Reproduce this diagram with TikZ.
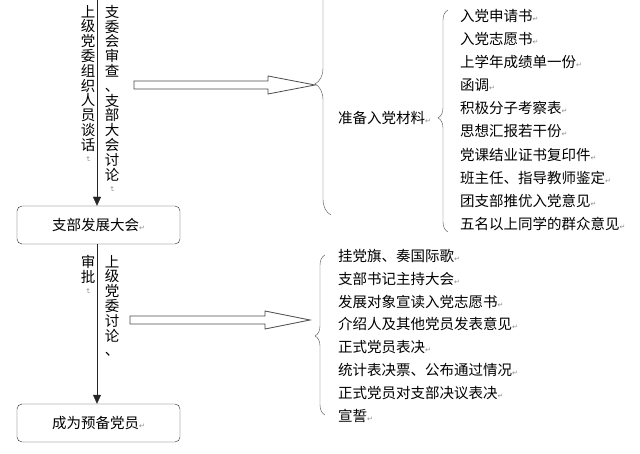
\documentclass[tikz,border=0pt]{standalone}
\usepackage{fontspec}
\newfontfamily\cjk{Noto Sans CJK SC}
\newfontfamily\markfont{DejaVu Sans}
\usetikzlibrary{arrows.meta,decorations.pathreplacing}
\newcommand\retmark{{\markfont\fontsize{7}{7}\selectfont\textcolor{black!45}{↵}}}
\newcommand\vretmark{\rotatebox{-90}{\retmark}}
\tikzset{
  stagebox/.style={draw=black!85, rounded corners=5pt, minimum width=163pt,
    minimum height=38pt, inner sep=0pt, font=\cjk\fontsize{14.5}{15}\selectfont},
  item/.style={anchor=west, inner sep=0pt, font=\cjk\fontsize{14.5}{15}\selectfont},
  vtext/.style={anchor=north, align=center, inner sep=0pt,
    font=\cjk\fontsize{14.5}{14.8}\selectfont},
  flow/.style={draw=black!85, -{Triangle[length=9pt,width=8pt]}},
  curly/.style={draw=black!70, decorate},
  fatarrow/.style={draw=black!70, fill=white, line width=0.8pt},
}
\begin{document}
\begin{tikzpicture}[x=1pt,y=-1pt]
  \clip (0,0) rectangle (640,454);
  % stages on the left
  \coordinate (start) at (97,-2);
  \node[stagebox] (dev) at (98.5,225) {支部发展大会\retmark};
  \node[stagebox] (prob) at (98.5,423) {成为预备党员\retmark};
  \draw[flow] (start) -- (start |- dev.north);
  \draw[flow] (dev.south -| start) -- (prob.north -| start);
  % vertical labels beside the flow lines
  \node[vtext] (talk) at (88,5) {上\\级\\党\\委\\组\\织\\人\\员\\谈\\话\\[-9pt]\vretmark};
  \node[vtext] (review) at (112,5) {支\\委\\会\\审\\查\\、\\支\\部\\大\\会\\讨\\论\\[-8pt]\vretmark};
  \node[vtext] (approve) at (88,255) {审\\批\\[-9pt]\vretmark};
  \node[vtext] (discuss) at (112,255) {上\\级\\党\\委\\讨\\论\\、};
  % block arrows
  \draw[fatarrow] (134,81) -- (268,81) -- (268,76) -- (315,85) -- (268,94)
    -- (268,89) -- (134,89) -- cycle;
  \draw[fatarrow] (130,316) -- (265,316) -- (265,311) -- (310,320) -- (265,329)
    -- (265,324) -- (130,324) -- cycle;
  % braces
  \draw[curly, decoration={brace, amplitude=16pt, aspect=0.535}] (331,215) -- (331,-30);
  \draw[curly, decoration={brace, amplitude=10pt, aspect=0.514}] (448,232) -- (448,10);
  \draw[curly, decoration={brace, amplitude=10pt, aspect=0.494}] (325,415) -- (325,255);
  % materials
  \node[item] (mat) at (338,118) {准备入党材料\retmark};
  \node[item] (m1) at (460,16) {入党申请书\retmark};
  \node[item] (m2) at (460,39.1) {入党志愿书\retmark};
  \node[item] (m3) at (460,62.2) {上学年成绩单一份\retmark};
  \node[item] (m4) at (460,85.3) {函调\retmark};
  \node[item] (m5) at (460,108.4) {积极分子考察表\retmark};
  \node[item] (m6) at (460,131.5) {思想汇报若干份\retmark};
  \node[item] (m7) at (460,154.6) {党课结业证书复印件\retmark};
  \node[item] (m8) at (460,177.7) {班主任、指导教师鉴定\retmark};
  \node[item] (m9) at (460,200.8) {团支部推优入党意见\retmark};
  \node[item] (m10) at (460,223.9) {五名以上同学的群众意见\retmark};
  % meeting steps
  \node[item] (s1) at (338,256) {挂党旗、奏国际歌\retmark};
  \node[item] (s2) at (338,278.8) {支部书记主持大会\retmark};
  \node[item] (s3) at (338,301.6) {发展对象宣读入党志愿书\retmark};
  \node[item] (s4) at (338,324.4) {介绍人及其他党员发表意见\retmark};
  \node[item] (s5) at (338,347.2) {正式党员表决\retmark};
  \node[item] (s6) at (338,370) {统计表决票、公布通过情况\retmark};
  \node[item] (s7) at (338,392.8) {正式党员对支部决议表决\retmark};
  \node[item] (s8) at (338,415.6) {宣誓\retmark};
\end{tikzpicture}
\end{document}
